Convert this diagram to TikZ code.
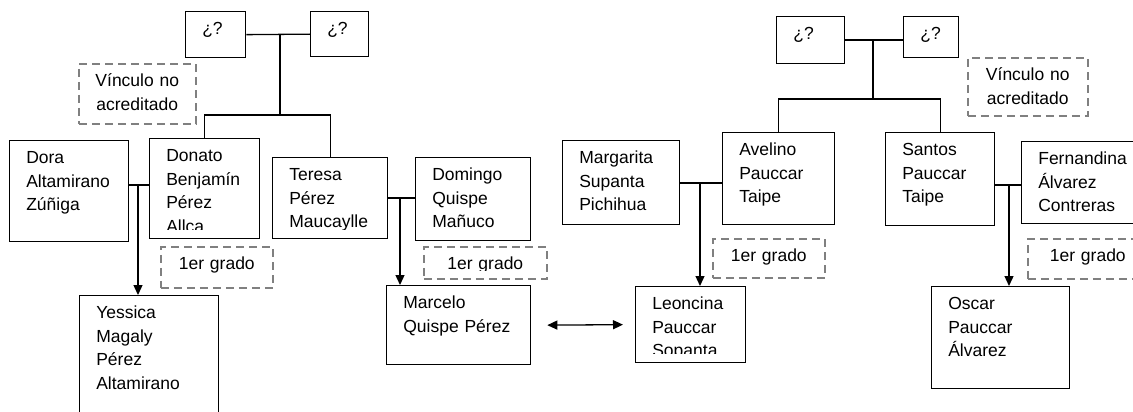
\documentclass[tikz,border=0pt]{standalone}
\usepackage{fontspec}
\setmainfont{Liberation Sans}
\usetikzlibrary{arrows.meta}
\tikzset{
  letra/.style = {font=\fontsize{17.5}{23.5}\selectfont},
  texto/.style = {letra, inner sep=0pt, minimum width=0pt, minimum height=0pt, draw=none, solid, text=black, text width=220pt},
  caja/.style = {rectangle, draw=black, line width=1.3pt, inner sep=0pt, anchor=north west,
    path picture={
      \clip ([yshift=9pt]path picture bounding box.south west) rectangle (path picture bounding box.north east);
      \node[texto, align=left, anchor=base west] at ([shift={(16pt,-23pt)}]path picture bounding box.north west) {#1};
    }},
  nota/.style = {rectangle, draw=black!50, dash pattern=on 8pt off 5pt, line width=1.6pt, inner sep=0pt, anchor=north west,
    path picture={
      \clip ([yshift=8pt]path picture bounding box.south west) rectangle (path picture bounding box.north east);
      \node[texto, align=center, anchor=base] at ([yshift=-23pt]path picture bounding box.north) {#1};
    }},
  linea/.style = {draw=black, line width=1.3pt},
  punta/.tip = {Triangle[length=10pt, width=9pt]},
  flecha/.style = {linea, -punta}
}

\begin{document}
\begin{tikzpicture}[x=1pt, y=-1pt]
	\useasboundingbox (0,0) rectangle (1133,412);
	\clip (0,0) rectangle (1133,412);

	\node[caja={¿?}, minimum width=60, minimum height=46] (q1) at (185,11) {};
	\node[caja={¿?}, minimum width=58, minimum height=45] (q2) at (310,11) {};
	\node[nota={Vínculo no\\acreditado}, minimum width=117, minimum height=60] (vinc1) at (78,63) {};
	\node[caja={Dora\\Altamirano\\Zúñiga}, minimum width=119, minimum height=101] (dora) at (9,140) {};
	\node[caja={Donato\\Benjamín\\Pérez\\Allca}, minimum width=110, minimum height=100] (donato) at (149,138) {};
	\node[caja={Teresa\\Pérez\\Maucaylle}, minimum width=115, minimum height=81] (teresa) at (272,157) {};
	\node[caja={Domingo\\Quispe\\Mañuco}, minimum width=115, minimum height=83] (domingo) at (415,157) {};
	\node[nota={1er grado}, minimum width=112, minimum height=41] (grado1) at (160,246) {};
	\node[nota={1er grado}, minimum width=123, minimum height=32] (grado2) at (423,246) {};
	\node[caja={Yessica\\Magaly\\Pérez\\Altamirano}, minimum width=139, minimum height=130] (yessica) at (79,295) {};
	\node[caja={Marcelo\\Quispe Pérez}, minimum width=144, minimum height=79] (marcelo) at (386,285) {};

	\node[caja={¿?}, minimum width=68, minimum height=47] (q3) at (776,16) {};
	\node[caja={¿?}, minimum width=55, minimum height=41] (q4) at (903,16) {};
	\node[nota={Vínculo no\\acreditado}, minimum width=120, minimum height=58] (vinc2) at (967,57) {};
	\node[caja={Margarita\\Supanta\\Pichihua}, minimum width=117, minimum height=84] (margarita) at (562,140) {};
	\node[caja={Avelino\\Pauccar\\Taipe}, minimum width=112, minimum height=92] (avelino) at (722,132) {};
	\node[caja={Santos\\Pauccar\\Taipe}, minimum width=109, minimum height=93] (santos) at (885,132) {};
	\node[caja={Fernandina\\Álvarez\\Contreras}, minimum width=125, minimum height=82] (fernandina) at (1021,141) {};
	\node[nota={1er grado}, minimum width=112, minimum height=39] (grado3) at (712,238) {};
	\node[nota={1er grado}, minimum width=120, minimum height=40] (grado4) at (1027,238) {};
	\node[caja={Leoncina\\Pauccar\\Sopanta}, minimum width=110, minimum height=76] (leoncina) at (635,286) {};
	\node[caja={Oscar\\Pauccar\\Álvarez}, minimum width=138, minimum height=102] (oscar) at (931,286) {};

	\coordinate (p1) at (280,115);
	\coordinate (p2) at (138,185);
	\coordinate (p3) at (400,198);
	\coordinate (p4) at (873,99);
	\coordinate (p5) at (700,183);
	\coordinate (p6) at (1009,185);

	\draw[linea] (q1.east) -- (q2.west);
	\draw[linea] (p1 |- q1.east) -- (p1);
	\draw[linea] (donato.north) |- (p1) -| (teresa.north);
	\draw[linea] (dora.east |- p2) -- (donato.west |- p2);
	\draw[flecha] (p2) -- (p2 |- yessica.north);
	\draw[linea] (teresa.east |- p3) -- (domingo.west |- p3);
	\draw[flecha] (p3) -- (p3 |- marcelo.north);
	\draw[linea, punta-punta] ([xshift=16pt]marcelo.east) -- ([xshift=-12pt]leoncina.west);

	\draw[linea] (q3.east) -- (q3.east -| q4.west);
	\draw[linea] (p4 |- q3.east) -- (p4);
	\draw[linea] (avelino.north) |- (p4) -| (santos.north);
	\draw[linea] (margarita.east |- p5) -- (avelino.west |- p5);
	\draw[flecha] (p5) -- (p5 |- leoncina.north);
	\draw[linea] (santos.east |- p6) -- (fernandina.west |- p6);
	\draw[flecha] (p6) -- (p6 |- oscar.north);
\end{tikzpicture}
\end{document}
